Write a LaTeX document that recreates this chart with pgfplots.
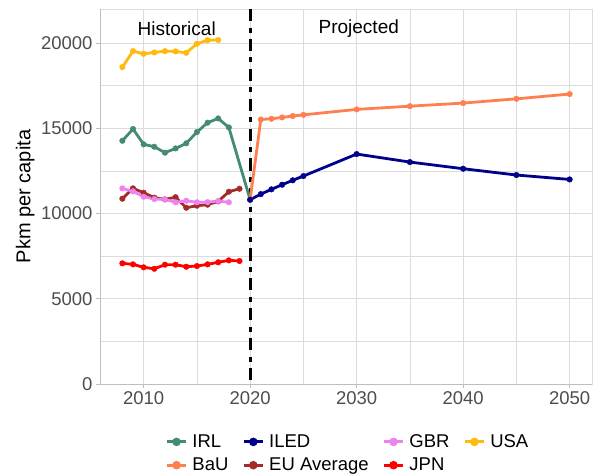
\documentclass[border=0pt]{standalone}
\usepackage{fontspec}
\setmainfont{Liberation Sans}
\usepackage{pgfplots}
\pgfplotsset{compat=1.18}
\usepackage{pgfplotstable}
\definecolor{cIRL}{HTML}{458B74}
\definecolor{cBaU}{HTML}{FF7F50}
\definecolor{cILED}{HTML}{00008B}
\definecolor{cEU}{HTML}{A52A2A}
\definecolor{cGBR}{HTML}{EE82EE}
\definecolor{cJPN}{HTML}{FF0000}
\definecolor{cUSA}{HTML}{FFB90F}
\definecolor{gridc}{HTML}{DCDCDC}
\definecolor{axisc}{HTML}{BEBEBE}
\definecolor{tickc}{HTML}{4D4D4D}

\pgfplotstableread{
year val
2008 14270
2009 14960
2010 14060
2011 13920
2012 13570
2013 13820
2014 14120
2015 14780
2016 15330
2017 15580
2018 15050
2020 10810
}\tIRL
\pgfplotstableread{
year val
2020 10810
2021 15520
2022 15560
2023 15640
2024 15720
2025 15790
2030 16110
2035 16300
2040 16480
2045 16730
2050 17010
}\tBaU
\pgfplotstableread{
year val
2020 10810
2021 11140
2022 11420
2023 11690
2024 11950
2025 12200
2030 13490
2035 13020
2040 12630
2045 12260
2050 12000
}\tILED
\pgfplotstableread{
year val
2008 10870
2009 11480
2010 11220
2011 10930
2012 10830
2013 10960
2014 10340
2015 10460
2016 10520
2017 10715
2018 11280
2019 11455
}\tEU
\pgfplotstableread{
year val
2008 11480
2009 11300
2010 10985
2011 10850
2012 10830
2013 10660
2014 10750
2015 10660
2016 10670
2017 10730
2018 10660
}\tGBR
\pgfplotstableread{
year val
2008 7080
2009 7020
2010 6845
2011 6760
2012 7000
2013 7000
2014 6880
2015 6920
2016 7020
2017 7140
2018 7255
2019 7215
}\tJPN
\pgfplotstableread{
year val
2008 18590
2009 19530
2010 19370
2011 19450
2012 19530
2013 19510
2014 19430
2015 19960
2016 20170
2017 20180
}\tUSA

\begin{document}
\begin{tikzpicture}
\path[use as bounding box] (-100bp,-92bp) rectangle (500bp,384bp);
\begin{axis}[
  at={(0,0)}, anchor=south west,
  scale only axis, width=492bp, height=375bp,
  xmin=2005.9, xmax=2052.1, ymin=0, ymax=22000,
  clip=false,
  xtick={2010,2020,...,2050}, ytick={0,5000,...,20000},
  minor xtick={2015,2025,2035,2045}, minor ytick={2500,7500,12500,17500},
  grid=both,
  major grid style={draw=gridc, line width=0.55bp},
  minor grid style={draw=gridc, line width=0.55bp},
  axis line style={draw=gridc, line width=0.55bp},
  tick pos=left, tick align=outside,
  major tick length=4bp, minor tick length=0pt,
  major tick style={draw=axisc, line width=0.55bp},
  minor tick style={draw=none},
  scaled ticks=false,
  /pgf/number format/1000 sep={},
  /pgf/number format/assume math mode=true,
  ticklabel style={font=\fontsize{18.5bp}{20bp}\selectfont, text=tickc},
  ylabel={Pkm per capita},
  ylabel style={font=\fontsize{20bp}{22bp}\selectfont, at={(axis description cs:-0.1325,0.5)}, anchor=south, inner sep=0pt},
  legend columns=4,
  legend cell align=left,
  legend style={draw=none, fill=none, at={(0.5,0)}, anchor=north, yshift=-46.5bp, xshift=2bp,
    font=\fontsize{18.5bp}{21bp}\selectfont,
    /tikz/every even column/.append style={column sep=12bp},
    /tikz/every odd column/.append style={column sep=3bp},
    row sep=5bp},
  legend image code/.code={\draw[mark repeat=2,mark phase=2,#1] plot coordinates {(0bp,0bp)(9.5bp,0bp)(19bp,0bp)};},
]
\draw[black, line width=3bp, dash pattern=on 12.3bp off 6.3bp on 5bp off 6.3bp] (axis cs:2020,22000) -- (axis cs:2020,0);
\draw[axisc, line width=0.7bp] (rel axis cs:0,1) -- (rel axis cs:0,0) -- (rel axis cs:1,0);

\addplot[cIRL, line width=2.8bp, line join=round, forget plot] table[x=year,y=val]{\tIRL};
\addplot[cBaU, line width=2.8bp, line join=round, forget plot] table[x=year,y=val]{\tBaU};
\addplot[cILED, line width=2.8bp, line join=round, forget plot] table[x=year,y=val]{\tILED};
\addplot[cEU, line width=2.8bp, line join=round, forget plot] table[x=year,y=val]{\tEU};
\addplot[cGBR, line width=2.8bp, line join=round, forget plot] table[x=year,y=val]{\tGBR};
\addplot[cJPN, line width=2.8bp, line join=round, forget plot] table[x=year,y=val]{\tJPN};
\addplot[cUSA, line width=2.8bp, line join=round, forget plot] table[x=year,y=val]{\tUSA};

\addplot[cIRL, only marks, mark=*, mark size=2.8bp, forget plot] table[x=year,y=val]{\tIRL};
\addplot[cBaU, only marks, mark=*, mark size=2.8bp, forget plot] table[x=year,y=val]{\tBaU};
\addplot[cILED, only marks, mark=*, mark size=2.8bp, forget plot] table[x=year,y=val]{\tILED};
\addplot[cEU, only marks, mark=*, mark size=2.8bp, forget plot] table[x=year,y=val]{\tEU};
\addplot[cGBR, only marks, mark=*, mark size=2.8bp, forget plot] table[x=year,y=val]{\tGBR};
\addplot[cJPN, only marks, mark=*, mark size=2.8bp, forget plot] table[x=year,y=val]{\tJPN};
\addplot[cUSA, only marks, mark=*, mark size=2.8bp, forget plot] table[x=year,y=val]{\tUSA};

\node[font=\fontsize{19bp}{22bp}\selectfont] at (axis cs:2013.1,20850) {Historical};
\node[font=\fontsize{19bp}{22bp}\selectfont] at (axis cs:2030.2,20850) {Projected};

\addlegendimage{cIRL, line width=2.8bp, mark=*, mark size=2.8bp}
\addlegendentry{IRL}
\addlegendimage{cILED, line width=2.8bp, mark=*, mark size=2.8bp}
\addlegendentry{ILED}
\addlegendimage{cGBR, line width=2.8bp, mark=*, mark size=2.8bp}
\addlegendentry{GBR}
\addlegendimage{cUSA, line width=2.8bp, mark=*, mark size=2.8bp}
\addlegendentry{USA}
\addlegendimage{cBaU, line width=2.8bp, mark=*, mark size=2.8bp}
\addlegendentry{BaU}
\addlegendimage{cEU, line width=2.8bp, mark=*, mark size=2.8bp}
\addlegendentry{EU Average}
\addlegendimage{cJPN, line width=2.8bp, mark=*, mark size=2.8bp}
\addlegendentry{JPN}
\end{axis}
\end{tikzpicture}
\end{document}
